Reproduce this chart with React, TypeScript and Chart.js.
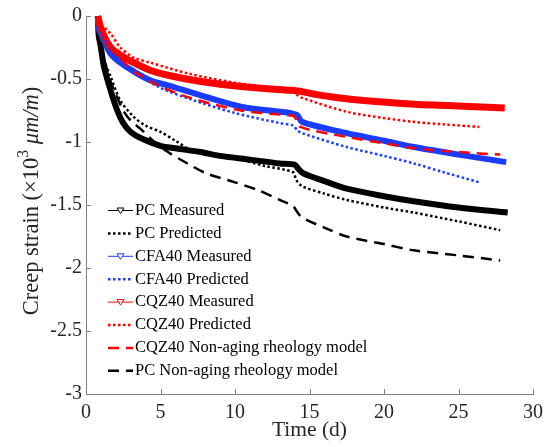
import React, { useEffect, useRef } from "react";
import { Chart, registerables } from "chart.js";

Chart.register(...registerables);

// ---- Data (time in days, creep strain in 10^3 µm/m) ----
const pcMeasT = [0.8, 0.85, 1.0, 1.2, 1.65, 2.1, 2.5, 3.0, 3.7, 5.0, 6.0, 7.7, 9.0, 11.0, 13.0, 14.0, 14.3, 14.6, 16.0, 17.5, 20.0, 22.0, 25.0, 28.3];
const pcMeasV = [0, -0.15, -0.25, -0.4, -0.59, -0.75, -0.85, -0.92, -0.97, -1.03, -1.05, -1.08, -1.11, -1.14, -1.17, -1.18, -1.22, -1.25, -1.31, -1.37, -1.43, -1.47, -1.52, -1.56];

const pcPredT = [1.0, 1.3, 1.65, 2.3, 3.2, 4.0, 5.0, 6.0, 7.0, 8.5, 10.4, 12.0, 13.9, 14.1, 14.5, 16.0, 17.5, 20.0, 22.0, 25.0, 27.8];
const pcPredV = [-0.27, -0.38, -0.48, -0.67, -0.8, -0.87, -0.92, -0.99, -1.06, -1.1, -1.14, -1.19, -1.24, -1.3, -1.35, -1.41, -1.46, -1.52, -1.56, -1.63, -1.7];

const pcNonAgingT = [1.0, 1.3, 1.65, 2.0, 2.5, 3.0, 3.7, 4.5, 5.5, 6.8, 8.1, 10.0, 11.5, 13.0, 13.9, 14.2, 14.5, 16.0, 17.5, 20.0, 22.0, 25.0, 27.8];
const pcNonAgingV = [-0.22, -0.38, -0.52, -0.62, -0.75, -0.83, -0.9, -0.99, -1.08, -1.17, -1.25, -1.32, -1.38, -1.46, -1.51, -1.56, -1.6, -1.68, -1.75, -1.81, -1.86, -1.9, -1.94];

const cfaMeasT = [0.8, 0.85, 1.0, 1.65, 2.3, 3.2, 4.3, 5.5, 7.7, 10.4, 13.7, 14.0, 14.2, 14.5, 17.5, 20.0, 22.0, 25.0, 28.2];
const cfaMeasV = [0, -0.1, -0.14, -0.3, -0.37, -0.44, -0.51, -0.55, -0.63, -0.72, -0.77, -0.78, -0.79, -0.84, -0.93, -0.99, -1.04, -1.1, -1.16];

const cfaPredT = [1.0, 1.65, 2.3, 3.3, 5.0, 7.0, 10.0, 13.0, 13.9, 14.2, 14.5, 17.5, 20.0, 22.0, 24.0, 26.4];
const cfaPredV = [-0.12, -0.27, -0.35, -0.45, -0.57, -0.66, -0.77, -0.85, -0.87, -0.91, -0.93, -1.04, -1.11, -1.17, -1.24, -1.32];

const cqzMeasT = [0.8, 0.9, 1.1, 1.65, 2.3, 3.2, 4.3, 5.5, 7.7, 10.4, 13.7, 14.5, 15.3, 17.0, 19.7, 22.0, 24.2, 28.1];
const cqzMeasV = [0, -0.06, -0.13, -0.25, -0.31, -0.37, -0.43, -0.47, -0.52, -0.56, -0.59, -0.6, -0.62, -0.65, -0.68, -0.7, -0.71, -0.73];

const cqzPredT = [1.0, 1.65, 2.3, 3.2, 4.3, 7.0, 10.0, 13.0, 14.0, 14.2, 14.5, 17.5, 20.0, 22.0, 24.0, 26.4];
const cqzPredV = [-0.07, -0.14, -0.25, -0.33, -0.37, -0.46, -0.53, -0.58, -0.6, -0.63, -0.65, -0.76, -0.81, -0.84, -0.86, -0.88];

const cqzNonAgingT = [1.0, 1.65, 2.5, 3.2, 4.8, 7.0, 10.4, 13.7, 14.0, 14.4, 17.5, 20.0, 22.0, 25.0, 27.8];
const cqzNonAgingV = [-0.1, -0.25, -0.36, -0.44, -0.55, -0.65, -0.75, -0.79, -0.8, -0.88, -0.96, -1.01, -1.05, -1.08, -1.1];

const xTicks = [0, 5, 10, 15, 20, 25, 30];
const yTicks = [0, -0.5, -1, -1.5, -2, -2.5, -3];

const legendLabels = [
  "PC Measured",
  "PC Predicted",
  "CFA40 Measured",
  "CFA40 Predicted",
  "CQZ40 Measured",
  "CQZ40 Predicted",
  "CQZ40 Non-aging rheology model",
  "PC Non-aging rheology model",
];

const xTitle = "Time (d)";
// y title pieces: [text, style]
const yTitleParts: [string, "n" | "sup" | "i"][] = [
  ["Creep strain (×10", "n"],
  ["3", "sup"],
  [" ", "n"],
  ["μm/m", "i"],
  [")", "n"],
];

const SERIF = "'Liberation Serif', 'Times New Roman', serif";
const AXIS_COLOR = "#808080";
const TEXT_COLOR = "#262626";

const pts = (t: number[], v: number[]) => t.map((x, i) => ({ x, y: v[i] }));

type Kind = "measured" | "dotted" | "dashed";
const styleFor = (kind: Kind, color: string, width: number) => {
  if (kind === "measured") return { borderColor: color, borderWidth: width, borderDash: [] as number[] };
  if (kind === "dotted") return { borderColor: color, borderWidth: width, borderDash: [2.5, 2.5] };
  return { borderColor: color, borderWidth: width, borderDash: [11, 7] };
};

const legendPlugin = {
  id: "insideLegend",
  afterDatasetsDraw(chart: any) {
    const ctx = chart.ctx;
    const x0 = 108;
    const x1 = 133;
    const yStart = 210.5;
    const step = 22.9;
    ctx.save();
    chart.data.datasets.forEach((ds: any, row: number) => {
      const y = yStart + row * step;
      const kind: Kind = ds.kind;
      ctx.strokeStyle = ds.borderColor;
      ctx.lineCap = "butt";
      if (kind === "measured") {
        ctx.setLineDash([]);
        ctx.lineWidth = 1;
        ctx.beginPath();
        ctx.moveTo(x0, y);
        ctx.lineTo(x1, y);
        ctx.stroke();
        const cx = (x0 + x1) / 2;
        ctx.fillStyle = "#ffffff";
        ctx.beginPath();
        ctx.moveTo(cx - 3.5, y - 2.5);
        ctx.lineTo(cx + 3.5, y - 2.5);
        ctx.lineTo(cx, y + 3);
        ctx.closePath();
        ctx.fill();
        ctx.stroke();
      } else {
        ctx.setLineDash(ds.borderDash);
        ctx.lineWidth = ds.borderWidth;
        ctx.beginPath();
        ctx.moveTo(x0, y);
        ctx.lineTo(x1, y);
        ctx.stroke();
      }
      ctx.setLineDash([]);
      ctx.fillStyle = "#000000";
      ctx.font = `16.5px ${SERIF}`;
      ctx.textBaseline = "middle";
      ctx.textAlign = "left";
      ctx.fillText(ds.label, 135, y);
    });
    ctx.restore();
  },
};

const inwardTicks = {
  id: "inwardTicks",
  afterDraw(chart: any) {
    const { ctx, chartArea, scales } = chart;
    ctx.save();
    ctx.strokeStyle = AXIS_COLOR;
    ctx.lineWidth = 1;
    ctx.beginPath();
    xTicks.forEach((t) => {
      const px = Math.round(scales.x.getPixelForValue(t)) + 0.5;
      ctx.moveTo(px, chartArea.bottom);
      ctx.lineTo(px, chartArea.bottom - 5);
    });
    yTicks.forEach((t) => {
      const py = Math.round(scales.y.getPixelForValue(t)) + 0.5;
      ctx.moveTo(chartArea.left, py);
      ctx.lineTo(chartArea.left + 5, py);
    });
    ctx.stroke();
    ctx.restore();
  },
};

const yTitlePlugin = {
  id: "yTitle",
  afterDraw(chart: any) {
    const { ctx, chartArea } = chart;
    const size = 22.5;
    const fontFor = (s: string) =>
      s === "i" ? `italic ${size}px ${SERIF}` : s === "sup" ? `${size * 0.7}px ${SERIF}` : `${size}px ${SERIF}`;
    ctx.save();
    let total = 0;
    yTitleParts.forEach(([txt, s]) => {
      ctx.font = fontFor(s);
      total += ctx.measureText(txt).width;
    });
    const cy = (chartArea.top + chartArea.bottom) / 2 - 4;
    ctx.translate(32, cy);
    ctx.rotate(-Math.PI / 2);
    ctx.fillStyle = TEXT_COLOR;
    ctx.textBaseline = "middle";
    ctx.textAlign = "left";
    let x = -total / 2;
    yTitleParts.forEach(([txt, s]) => {
      ctx.font = fontFor(s);
      ctx.fillText(txt, x, s === "sup" ? -size * 0.35 : 0);
      x += ctx.measureText(txt).width;
    });
    ctx.restore();
  },
};

export default function App() {
  const ref = useRef<HTMLCanvasElement | null>(null);
  useEffect(() => {
    if (!ref.current) return;
    const mk = (label: string, t: number[], v: number[], kind: Kind, color: string, width: number, order: number) => ({
      label,
      data: pts(t, v),
      kind,
      ...styleFor(kind, color, width),
      borderCapStyle: "butt",
      borderJoinStyle: "round",
      pointRadius: 0,
      fill: false,
      tension: 0.3,
      order,
      clip: 6,
    });
    const chart = new Chart(ref.current, {
      type: "line",
      data: {
        datasets: [
          mk(legendLabels[0], pcMeasT, pcMeasV, "measured", "#000000", 6, 8),
          mk(legendLabels[1], pcPredT, pcPredV, "dotted", "#000000", 2.5, 2),
          mk(legendLabels[2], cfaMeasT, cfaMeasV, "measured", "#1a3cff", 6, 7),
          mk(legendLabels[3], cfaPredT, cfaPredV, "dotted", "#1a3cff", 2.5, 3),
          mk(legendLabels[4], cqzMeasT, cqzMeasV, "measured", "#ff0000", 7, 6),
          mk(legendLabels[5], cqzPredT, cqzPredV, "dotted", "#ff0000", 2.5, 4),
          mk(legendLabels[6], cqzNonAgingT, cqzNonAgingV, "dashed", "#ff0000", 2.5, 1),
          mk(legendLabels[7], pcNonAgingT, pcNonAgingV, "dashed", "#000000", 2.5, 5),
        ] as any,
      },
      options: {
        responsive: false,
        animation: false,
        layout: { padding: { left: 0, right: 19, top: 16, bottom: 0 } },
        plugins: { legend: { display: false }, tooltip: { enabled: false } },
        scales: {
          x: {
            type: "linear",
            min: 0,
            max: 30,
            afterFit: (s: any) => { s.height = 53; },
            afterBuildTicks: (s: any) => { s.ticks = xTicks.map((v) => ({ value: v })); },
            grid: { display: false, drawTicks: false },
            border: { display: true, color: AXIS_COLOR, width: 1 },
            ticks: { color: TEXT_COLOR, font: { family: SERIF, size: 20 }, padding: 7, callback: (v: any) => String(v), maxRotation: 0 },
            title: { display: true, text: xTitle, color: TEXT_COLOR, font: { family: SERIF, size: 21.5 }, padding: { top: 0, bottom: 4 } },
          },
          y: {
            type: "linear",
            min: -3,
            max: 0,
            afterFit: (s: any) => { s.width = 86; },
            afterBuildTicks: (s: any) => { s.ticks = yTicks.map((v) => ({ value: v })); },
            grid: { display: false, drawTicks: false },
            border: { display: true, color: AXIS_COLOR, width: 1 },
            ticks: { color: TEXT_COLOR, font: { family: SERIF, size: 20 }, padding: 4, callback: (v: any) => String(v) },
            title: { display: false },
          },
        },
      } as any,
      plugins: [inwardTicks, legendPlugin, yTitlePlugin],
    });
    return () => chart.destroy();
  }, []);
  return (
    <div style={{ position: "fixed", left: 0, top: 0, width: 552, height: 447, background: "#fff" }}>
      <canvas ref={ref} width={552} height={447} style={{ display: "block" }} />
    </div>
  );
}
